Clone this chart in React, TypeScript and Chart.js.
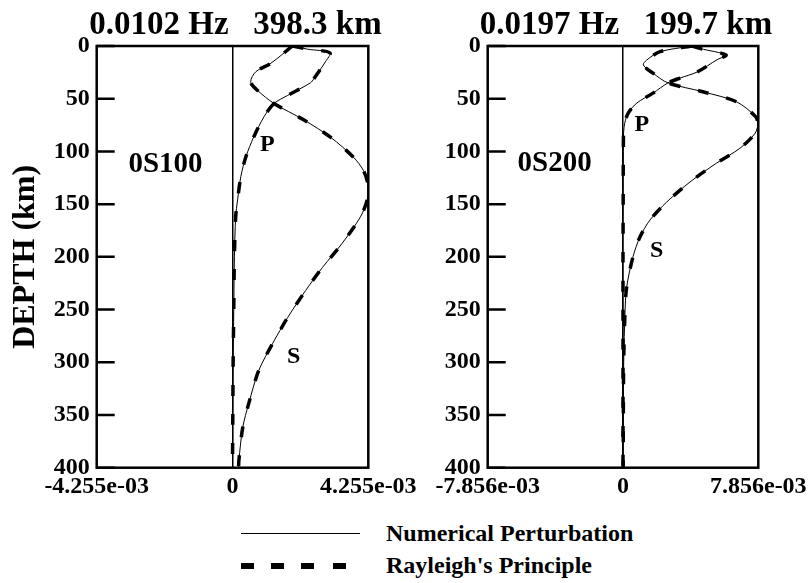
import { useEffect, useRef } from 'react';
import { Chart, registerables } from 'chart.js';

Chart.register(...registerables);

const FONT = "'Liberation Serif', 'Times New Roman', Times, serif";

// Depth axis ticks (km)
const depthTicks = [0, 50, 100, 150, 200, 250, 300, 350, 400];

// ---- 0S100 : 0.0102 Hz, wavelength 398.3 km ----
const s100Title = '0.0102 Hz   398.3 km';
const s100Name = '0S100';
const s100Limit = 4.255e-3;
const s100XLabels = ['-4.255e-03', '0', '4.255e-03'];
const s100PDepth = [0, 3, 6.5, 15, 31, 35, 47, 54.5, 67, 86, 105, 124, 146, 162, 200, 250, 300, 350, 400];
const s100P = [1.88e-3, 2.35e-3, 3.05e-3, 2.91e-3, 2.55e-3, 2.44e-3, 1.72e-3, 1.3e-3, 0.99e-3, 0.67e-3, 0.42e-3, 0.26e-3, 0.16e-3, 0.1e-3, 0.06e-3, 0.04e-3, 0.02e-3, 0.01e-3, 0];
const s100SDepth = [0, 16.4, 24.4, 34, 42, 54.5, 70, 86.5, 105.5, 118, 132, 146, 162, 187, 210, 232, 257.5, 282, 308, 339, 362, 393, 400];
const s100S = [1.88e-3, 1.2e-3, 0.73e-3, 0.57e-3, 0.78e-3, 1.3e-3, 2.23e-3, 3.07e-3, 3.79e-3, 4.1e-3, 4.25e-3, 4.22e-3, 4.01e-3, 3.44e-3, 2.82e-3, 2.29e-3, 1.73e-3, 1.26e-3, 0.82e-3, 0.51e-3, 0.32e-3, 0.2e-3, 0.19e-3];

// ---- 0S200 : 0.0197 Hz, wavelength 199.7 km ----
const s200Title = '0.0197 Hz   199.7 km';
const s200Name = '0S200';
const s200Limit = 7.856e-3;
const s200XLabels = ['-7.856e-03', '0', '7.856e-03'];
const s200PDepth = [0, 2.5, 8.5, 13, 24.7, 30.4, 35, 44.7, 54, 64, 77, 100, 150, 200, 250, 300, 400];
const s200P = [4.0e-3, 4.5e-3, 5.98e-3, 5.46e-3, 4.3e-3, 3.31e-3, 2.61e-3, 1.74e-3, 0.81e-3, 0.29e-3, 0.06e-3, 0.02e-3, 0.01e-3, 0, 0, 0, 0];
const s200SDepth = [0, 5.4, 13.3, 18, 26, 35, 43.4, 53, 67, 74, 83, 97, 111, 129, 148, 165, 181, 200, 229, 251, 300, 350, 400];
const s200S = [4.0e-3, 2.15e-3, 1.38e-3, 1.18e-3, 1.76e-3, 2.61e-3, 4.64e-3, 6.6e-3, 7.7e-3, 7.83e-3, 7.66e-3, 6.79e-3, 5.44e-3, 3.89e-3, 2.54e-3, 1.57e-3, 0.99e-3, 0.58e-3, 0.21e-3, 0.12e-3, 0.04e-3, 0.02e-3, 0.01e-3];

// Where the in-plot labels sit, as [value, depth]
const s100NameAt = [-2.1e-3, 112];
const s100PAt = [1.09e-3, 94];
const s100SAt = [1.92e-3, 295];
const s200NameAt = [-3.97e-3, 111];
const s200PAt = [1.09e-3, 75];
const s200SAt = [1.96e-3, 194];

const CANVAS_H = 520;

const toPoints = (depths: number[], values: number[]) =>
  depths.map((d, i) => ({ x: values[i], y: d }));

const decorPlugin = {
  id: 'decor',
  afterDraw(chart: any, _args: any, o: any) {
    const { ctx, chartArea: a, scales } = chart;
    const x = scales.x;
    const y = scales.y;
    ctx.save();
    ctx.strokeStyle = '#000';
    ctx.lineWidth = 2.5;
    ctx.strokeRect(a.left, a.top, a.right - a.left, a.bottom - a.top);
    // depth ticks pointing into the plot
    ctx.beginPath();
    for (const t of y.ticks) {
      const py = y.getPixelForValue(t.value);
      ctx.moveTo(a.left, py);
      ctx.lineTo(a.left + 18, py);
    }
    ctx.stroke();

    ctx.fillStyle = '#000';
    ctx.textAlign = 'center';
    ctx.textBaseline = 'middle';
    ctx.font = `bold 33px ${FONT}`;
    ctx.fillText(o.title, (a.left + a.right) / 2 + 3, 25);
    ctx.font = `bold 29px ${FONT}`;
    ctx.fillText(o.name, x.getPixelForValue(o.nameAt[0]), y.getPixelForValue(o.nameAt[1]));
    ctx.font = `bold 24px ${FONT}`;
    ctx.fillText('P', x.getPixelForValue(o.pAt[0]), y.getPixelForValue(o.pAt[1]));
    ctx.fillText('S', x.getPixelForValue(o.sAt[0]), y.getPixelForValue(o.sAt[1]));
    ctx.restore();
  },
};

type PanelProps = {
  left: number;
  width: number;
  axisWidth: number;
  padRight: number;
  limit: number;
  xLabels: string[];
  pDepth: number[];
  p: number[];
  sDepth: number[];
  s: number[];
  title: string;
  name: string;
  nameAt: number[];
  pAt: number[];
  sAt: number[];
  showDepthTitle: boolean;
};

function Panel(props: PanelProps) {
  const ref = useRef<HTMLCanvasElement>(null);

  useEffect(() => {
    const tickFont = { family: FONT, size: 24, weight: 'bold' as const };
    const solid = { showLine: true, borderColor: '#000', borderWidth: 1, pointRadius: 0, tension: 0.3, order: 2 };
    const dashed = {
      showLine: true,
      borderColor: '#000',
      borderWidth: 3.5,
      borderDash: [11, 18],
      borderCapStyle: 'butt' as const,
      pointRadius: 0,
      tension: 0.3,
      order: 1,
    };
    const chart = new Chart(ref.current as HTMLCanvasElement, {
      type: 'scatter',
      data: {
        datasets: [
          { label: 'Numerical Perturbation P', data: toPoints(props.pDepth, props.p), ...solid },
          { label: 'Numerical Perturbation S', data: toPoints(props.sDepth, props.s), ...solid },
          { label: "Rayleigh's Principle P", data: toPoints(props.pDepth, props.p), ...dashed },
          { label: "Rayleigh's Principle S", data: toPoints(props.sDepth, props.s), ...dashed },
        ],
      },
      options: {
        responsive: false,
        animation: false,
        layout: { padding: { left: 0, top: 46, right: props.padRight, bottom: 0 } },
        plugins: {
          legend: { display: false },
          tooltip: { enabled: false },
          decor: {
            title: props.title,
            name: props.name,
            nameAt: props.nameAt,
            pAt: props.pAt,
            sAt: props.sAt,
          },
        } as any,
        scales: {
          x: {
            type: 'linear',
            min: -props.limit,
            max: props.limit,
            afterBuildTicks: (s: any) => {
              s.ticks = [{ value: -props.limit }, { value: 0 }, { value: props.limit }];
            },
            afterFit: (s: any) => {
              s.height = CANVAS_H - 467.7;
              s.paddingLeft = 0;
              s.paddingRight = 0;
            },
            grid: {
              color: (c: any) => (c.tick && c.tick.value === 0 ? '#000' : 'rgba(0,0,0,0)'),
              lineWidth: 1.5,
              drawTicks: false,
            },
            border: { display: false },
            ticks: {
              callback: (_v: any, i: number) => props.xLabels[i],
              font: tickFont,
              color: '#000',
              padding: 5,
              maxRotation: 0,
              autoSkip: false,
            },
          },
          y: {
            type: 'linear',
            reverse: true,
            min: 0,
            max: 400,
            afterBuildTicks: (s: any) => {
              s.ticks = depthTicks.map((v) => ({ value: v }));
            },
            afterFit: (s: any) => {
              s.width = props.axisWidth;
              s.paddingTop = 0;
              s.paddingBottom = 0;
            },
            grid: { display: false, drawTicks: false },
            border: { display: false },
            ticks: { font: tickFont, color: '#000', padding: 7 },
            title: {
              display: props.showDepthTitle,
              text: 'DEPTH (km)',
              color: '#000',
              font: { family: FONT, size: 32, weight: 'bold' },
              padding: { top: 7, bottom: 0 },
            },
          },
        },
      },
      plugins: [decorPlugin],
    });
    return () => chart.destroy();
  }, []);

  return (
    <canvas
      ref={ref}
      width={props.width}
      height={CANVAS_H}
      style={{ position: 'absolute', left: props.left, top: 0, width: props.width, height: CANVAS_H }}
    />
  );
}

const legendText = {
  position: 'absolute' as const,
  left: 386,
  font: `bold 24px ${FONT}`,
  lineHeight: '24px',
  whiteSpace: 'nowrap' as const,
  color: '#000',
  transform: 'translateY(-50%)',
};

const dashStarts = [241, 271, 301, 333];

export default function App() {
  return (
    <div style={{ position: 'fixed', left: 0, top: 0, width: 811, height: 583, background: '#fff', overflow: 'hidden' }}>
      <Panel
        left={0}
        width={428}
        axisWidth={96.7}
        padRight={428 - 368.3}
        limit={s100Limit}
        xLabels={s100XLabels}
        pDepth={s100PDepth}
        p={s100P}
        sDepth={s100SDepth}
        s={s100S}
        title={s100Title}
        name={s100Name}
        nameAt={s100NameAt}
        pAt={s100PAt}
        sAt={s100SAt}
        showDepthTitle={true}
      />
      <Panel
        left={428}
        width={383}
        axisWidth={487.7 - 428}
        padRight={383 - (758.3 - 428)}
        limit={s200Limit}
        xLabels={s200XLabels}
        pDepth={s200PDepth}
        p={s200P}
        sDepth={s200SDepth}
        s={s200S}
        title={s200Title}
        name={s200Name}
        nameAt={s200NameAt}
        pAt={s200PAt}
        sAt={s200SAt}
        showDepthTitle={false}
      />
      <div style={{ position: 'absolute', left: 241, top: 533, width: 119, height: 1, background: '#000' }} />
      <div style={{ ...legendText, top: 533 }}>Numerical Perturbation</div>
      {dashStarts.map((x) => (
        <div key={x} style={{ position: 'absolute', left: x, top: 563, width: 13, height: 6, background: '#000' }} />
      ))}
      <div style={{ ...legendText, top: 565 }}>Rayleigh's Principle</div>
    </div>
  );
}
